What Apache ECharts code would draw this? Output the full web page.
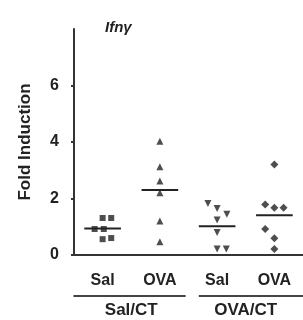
<!DOCTYPE html>
<html>
<head>
<meta charset="utf-8">
<script src="https://cdn.jsdelivr.net/npm/echarts@6/dist/echarts.min.js"></script>
<style>
  html, body { margin: 0; padding: 0; background: #fff; }
  #chart { width: 303px; height: 320px; }
</style>
</head>
<body>
<div id="chart"></div>
<script>
var treatments = ['Sal', 'OVA', 'Sal', 'OVA'];
var groups = ['Sal/CT', 'OVA/CT'];
var yTicks = [0, 2, 4, 6];
// each point: [offset from column centre, fold induction]
var salCtSal = [[-0.14, 0.92], [0, 1.31], [0.15, 1.31], [0.02, 0.92], [0, 0.56], [0.15, 0.60]];
var salCtOva = [[0, 4.03], [0, 3.12], [0, 2.62], [0, 2.2], [0, 1.2], [0, 0.47]];
var ovaCtSal = [[-0.16, 1.82], [0, 1.65], [0.17, 1.44], [0, 1.24], [0, 0.80], [0, 0.21], [0.16, 0.21]];
var ovaCtOva = [[0, 3.2], [-0.16, 1.79], [0, 1.67], [0.16, 1.67], [-0.16, 0.92], [0, 0.59], [0, 0.21]];
var means = [0.94, 2.3, 1.02, 1.41];

var font = '"Liberation Sans", Arial, Helvetica, sans-serif';
var ink = '#222';

var columns = [
  { pts: salCtSal, symbol: 'rect', size: 6, rotate: 0 },
  { pts: salCtOva, symbol: 'triangle', size: 7, rotate: 0 },
  { pts: ovaCtSal, symbol: 'triangle', size: 7, rotate: 180 },
  { pts: ovaCtOva, symbol: 'diamond', size: 8, rotate: 0 }
];

var series = [];
columns.forEach(function (col, i) {
  series.push({
    type: 'scatter',
    xAxisIndex: 1,
    symbol: col.symbol,
    symbolSize: col.size,
    symbolRotate: col.rotate,
    itemStyle: { color: ink },
    data: col.pts.map(function (p) { return [i + 1 + p[0], p[1]]; })
  });
  series.push({
    type: 'line',
    xAxisIndex: 1,
    symbol: 'none',
    lineStyle: { color: ink, width: 2 },
    data: [[i + 1 - 0.32, means[i]], [i + 1 + 0.32, means[i]]]
  });
});

var chart = echarts.init(document.getElementById('chart'));
chart.setOption({
  animation: false,
  backgroundColor: '#fff',
  title: {
    text: 'Ifnγ',
    left: 100,
    top: 15,
    textStyle: { fontFamily: font, fontStyle: 'italic', fontWeight: 'bold', fontSize: 15, color: ink }
  },
  grid: { left: 74, top: 29, width: 245, height: 226 },
  xAxis: [
    {
      type: 'category',
      position: 'bottom',
      data: treatments,
      axisLine: { lineStyle: { color: '#333', width: 2 } },
      axisTick: { show: false },
      axisLabel: { margin: 18, fontFamily: font, fontWeight: 'bold', fontSize: 16, color: ink }
    },
    { type: 'value', position: 'bottom', min: 0.5, max: 4.5, show: false },
    {
      type: 'category',
      position: 'bottom',
      data: groups,
      axisLine: { show: false },
      axisTick: { show: false },
      axisLabel: { margin: 47, fontFamily: font, fontWeight: 'bold', fontSize: 17, color: ink }
    }
  ],
  yAxis: {
    type: 'value',
    min: 0,
    max: 8,
    interval: 2,
    name: 'Fold Induction',
    nameLocation: 'middle',
    nameGap: 40,
    nameTextStyle: { fontFamily: font, fontWeight: 'bold', fontSize: 17, color: ink },
    axisLine: { show: true, lineStyle: { color: '#333', width: 2 } },
    axisTick: { show: true, length: 3, lineStyle: { color: '#333', width: 2 }, customValues: yTicks },
    axisLabel: { margin: 15, fontFamily: font, fontWeight: 'bold', fontSize: 16, color: ink, customValues: yTicks },
    splitLine: { show: false }
  },
  series: series
});

// group brackets under the treatment labels
var ly = 296;
function px(v) { return chart.convertToPixel({ xAxisIndex: 1 }, v); }
chart.setOption({
  graphic: [
    { type: 'line', shape: { x1: px(0.49), y1: ly, x2: px(2.45), y2: ly }, style: { stroke: '#444', lineWidth: 2 } },
    { type: 'line', shape: { x1: px(2.68), y1: ly, x2: px(4.5), y2: ly }, style: { stroke: '#444', lineWidth: 2 } }
  ]
});
</script>
</body>
</html>
